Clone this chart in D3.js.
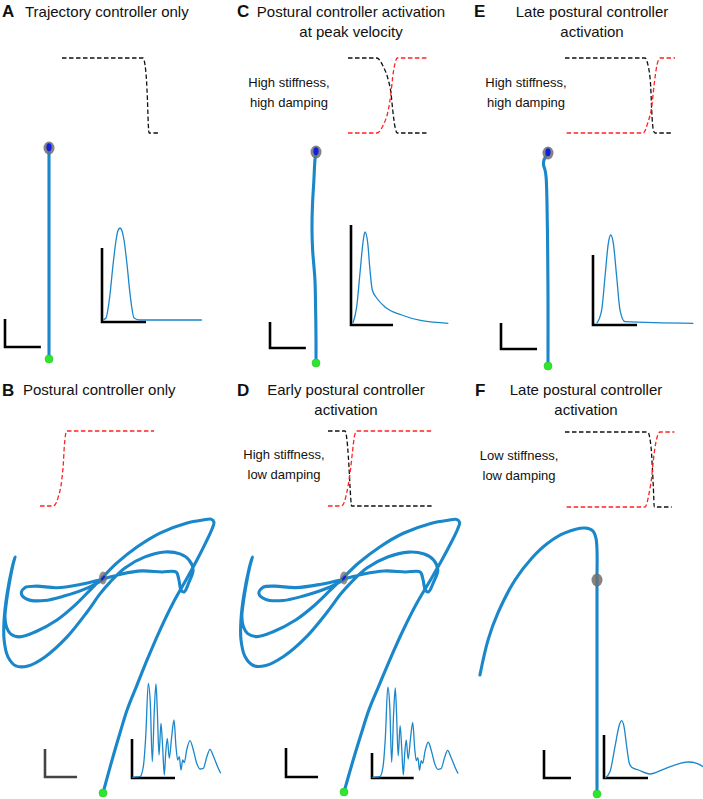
<!DOCTYPE html>
<html>
<head>
<meta charset="utf-8">
<script src="https://cdn.jsdelivr.net/npm/d3@7"></script>
<style>
  body { margin: 0; background: #fff; }
  svg { display: block; font-family: "Liberation Sans", Arial, Helvetica, sans-serif; }
</style>
</head>
<body>
<svg id="fig" width="703" height="799"></svg>
<script>
// ---------- data ----------
// hand paths in cm, start = (0,0), target = (0,10)
const trajA = [[0,0],[0,10]];
const trajC = [[0,0],[0,1.09],[-0.02,2.65],[-0.05,3.93],[-0.16,5.36],[-0.19,6.3],[-0.17,7.42],[-0.1,8.67],[-0.05,9.62],[0,10]];
const trajE = [[0,0],[0,3.1],[-0.02,5.92],[-0.05,7.79],[-0.09,8.87],[-0.14,9.2],[-0.21,9.44],[-0.19,9.67],[-0.09,9.86],[0,10]];
const trajF = [[0,0],[0,5],[0,9.95],[0,11.4],[-0.05,11.96],[-0.19,12.29],[-0.56,12.43],[-1.5,12.2],[-2.29,11.73],
  [-3.04,11.03],[-3.83,10.0],[-4.63,8.46],[-5.09,7.2],[-5.47,5.56]];
// postural controller only (B) -- same path reused for D
const trajB = [
  [0,0],[0.42,1.53],[0.79,2.79],[1.12,3.86],[1.58,5.02],[2.05,6.19],[2.65,7.58],[3.26,8.84],[3.86,9.91],
  [4.37,10.84],[4.79,11.67],[5.07,12.28],[5.16,12.6],[5.02,12.74],
  [4.65,12.7],[3.91,12.56],[2.65,12.09],[1.58,11.44],[0.65,10.7],[0,10.05],
  [-0.6,9.44],[-1.3,8.74],[-2.14,8.05],[-3.16,7.49],[-3.88,7.26],[-4.3,7.4],[-4.49,7.72],[-4.56,8.19],
  [-4.51,8.74],[-4.37,9.67],[-4.19,10.6],[-4.09,10.98],
  [-4.23,10.47],[-4.47,9.21],[-4.6,8.05],[-4.6,7.12],[-4.42,6.33],[-4.05,5.91],[-3.49,5.91],
  [-2.7,6.33],[-1.67,7.26],[-0.74,8.42],[-0.14,9.26],[0.33,9.81],
  [1.02,10.47],[1.95,10.98],[2.88,11.21],[3.58,11.12],[4.0,10.84],[4.19,10.37],[4.0,9.81],[3.77,9.35],
  [3.63,9.44],[3.53,9.91],[3.4,10.28],
  [2.74,10.28],[1.81,10.33],[0.88,10.19],[0,9.95],
  [-1.07,9.7],[-2.15,9.55],[-3.1,9.62],[-3.62,9.56],[-3.8,9.28],[-3.5,9.0],[-2.72,8.95],
  [-1.81,9.16],[-0.74,9.53],[0,9.91]
];

// controller activation vs normalised time (black = trajectory, red = postural)
const trajActA = [[0,1],[0.835,1],[0.856,0.907],[0.871,0.707],[0.881,0.44],[0.89,0.107],[0.897,0],[1,0]];
const postActB = [[0,0],[0.117,0],[0.161,0.124],[0.191,0.347],[0.205,0.573],[0.213,0.79],[0.234,1],[1,1]];
const trajActC = [[0,1],[0.363,1],[0.447,0.884],[0.51,0.707],[0.544,0.533],[0.566,0.307],[0.595,0.08],[0.624,0],[1,0]];
const postActC = [[0,0],[0.363,0],[0.447,0.107],[0.51,0.307],[0.544,0.533],[0.566,0.75],[0.595,0.93],[0.624,1],[1,1]];
const trajActD = [[0,1],[0.162,1],[0.187,0.787],[0.2,0.52],[0.21,0.253],[0.225,0],[1,0]];
const postActD = [[0,0],[0.13,0],[0.178,0.173],[0.21,0.44],[0.232,0.707],[0.251,0.924],[0.273,1],[1,1]];
const trajActE = [[0,1],[0.727,1],[0.757,0.889],[0.779,0.62],[0.788,0.307],[0.803,0.04],[0.818,0],[0.97,0]];
const postActE = [[0.015,0],[0.712,0],[0.752,0.133],[0.788,0.351],[0.812,0.667],[0.834,0.889],[0.864,1],[1,1]];
const trajActF = [[0,1],[0.752,1],[0.782,0.8],[0.794,0.533],[0.803,0.267],[0.812,0],[0.97,0]];
const postActF = [[0.015,0],[0.727,0],[0.764,0.18],[0.788,0.4],[0.803,0.62],[0.825,0.853],[0.864,1],[0.994,1]];

// hand speed profiles (time in bar units, speed in bar units)
const speedA = [[0.02,0.027],[0.09,0.054],[0.18,0.365],[0.25,0.77],[0.32,1.108],[0.36,1.23],[0.41,1.27],
  [0.455,1.23],[0.5,1.108],[0.57,0.77],[0.64,0.365],[0.73,0.054],[0.86,0.027],[2.27,0.027]];
const speedC = [[0.048,0.02],[0.136,0.183],[0.214,0.52],[0.293,0.85],[0.333,0.93],[0.398,0.82],[0.452,0.55],
  [0.507,0.35],[0.612,0.27],[0.81,0.18],[1.207,0.1],[1.683,0.043],[2.317,0.017]];
const speedE = [[0.084,0.024],[0.197,0.214],[0.273,0.69],[0.348,1.167],[0.402,1.286],[0.462,1.167],
  [0.538,0.69],[0.614,0.214],[0.727,0.047],[2.28,0.024]];
const speedB = [[0.007,0.018],[0.186,0.033],[0.263,0.29],[0.319,1.059],[0.379,2.428],[0.426,1.915],[0.472,0.418],
  [0.519,1.744],[0.558,2.41],[0.588,1.744],[0.628,0.59],[0.674,1.403],[0.714,0.762],[0.751,0.077],[0.784,0.641],
  [0.821,1.018],[0.867,0.505],[0.923,1.059],[0.977,1.487],[1.023,0.803],[1.063,0.462],[1.1,0.546],[1.14,0.205],
  [1.179,0.462],[1.216,0.392],[1.272,0.718],[1.349,0.956],[1.426,0.718],[1.505,0.377],[1.581,0.231],[1.658,0.249],
  [1.737,0.531],[1.814,0.736],[1.891,0.564],[2.007,0.249],[2.063,0.121]];
const speedF = [[0.023,0],[0.136,0.147],[0.25,0.728],[0.348,1.233],[0.402,1.333],[0.455,1.193],[0.516,0.728],
  [0.575,0.342],[0.63,0.249],[0.78,0.186],[1.045,0.093],[1.348,0.202],[1.652,0.319],[1.916,0.372],[2.107,0.342],[2.257,0.263]];

// distance scale bars [horizontal, vertical] in cm
const scaleBars = { A: [1.7,1.33], B: [1.49,1.3], C: [1.7,1.23], D: [1.43,1.35], E: [1.69,1.22], F: [1.26,1.31] };

const titles = {
  A: ["Trajectory controller only"],
  B: ["Postural controller only"],
  C: ["Postural controller activation", "at peak velocity"],
  D: ["Early postural controller", "activation"],
  E: ["Late postural controller", "activation"],
  F: ["Late postural controller", "activation"]
};
const notes = {
  C: ["High stiffness,", "high damping"],
  D: ["High stiffness,", "low damping"],
  E: ["High stiffness,", "high damping"],
  F: ["Low stiffness,", "low damping"]
};

// ---------- layout ----------
const panels = [
  { id: "A", traj: trajA, tAct: trajActA, pAct: null, speed: speedA, dot: "big",
    tr: { x: 49, y0: 359, y10: 148, kx: 21.1 }, bar: [5, 347], barColor: "#000",
    act: { x: [62, 159], y: [133, 58] },
    sp: { o: [102, 322], t: 44, v: 74, barT: 1, barV: 1 },
    letter: [2, 17], title: { x: 25, y: 16.5, a: "start" } },
  { id: "B", traj: trajB, tAct: null, pAct: postActB, speed: speedB, dot: "small",
    tr: { x: 103, y0: 793, y10: 578, kx: 21.5 }, bar: [45, 777], barColor: "#444",
    act: { x: [40, 154], y: [506, 431] },
    sp: { o: [132, 778], t: 43, v: 39, barT: 1, barV: 1 },
    letter: [2, 396], title: { x: 23, y: 395, a: "start" } },
  { id: "C", traj: trajC, tAct: trajActC, pAct: postActC, speed: speedC, dot: "big",
    tr: { x: 316, y0: 363, y10: 152, kx: 21.1 }, bar: [270, 348], barColor: "#000",
    act: { x: [348, 427], y: [133, 58] },
    sp: { o: [351, 325], t: 42, v: 100, barT: 1, barV: 1 },
    letter: [237, 17], title: { x: 351, y: 16.5, a: "middle" }, note: { x: 289, y: 87 } },
  { id: "D", traj: trajB, tAct: trajActD, pAct: postActD, speed: speedB, dot: "small",
    tr: { x: 344, y0: 792, y10: 578, kx: 22.4 }, bar: [286, 777], barColor: "#000",
    act: { x: [328, 433], y: [506, 431] },
    sp: { o: [372, 778], t: 41.7, v: 37.4, barT: 1, barV: 0.67 },
    letter: [237, 396], title: { x: 346, y: 395, a: "middle" }, note: { x: 284, y: 459 } },
  { id: "E", traj: trajE, tAct: trajActE, pAct: postActE, speed: speedE, dot: "big",
    tr: { x: 548, y0: 366, y10: 153, kx: 21.3 }, bar: [501, 349], barColor: "#000",
    act: { x: [565, 675], y: [133, 58] },
    sp: { o: [593, 325], t: 44, v: 70, barT: 1, barV: 1 },
    letter: [474, 17], title: { x: 592, y: 16.5, a: "middle" }, note: { x: 526, y: 87 } },
  { id: "F", traj: trajF, tAct: trajActF, pAct: postActF, speed: speedF, dot: null,
    tr: { x: 597, y0: 794, y10: 580, kx: 21.4 }, bar: [544, 778], barColor: "#000",
    act: { x: [565, 675], y: [507, 432] },
    sp: { o: [604, 778], t: 44, v: 43, barT: 1, barV: 1 },
    letter: [475, 396], title: { x: 586, y: 395, a: "middle" }, note: { x: 519, y: 460 } }
];

const blue = "#1a87cb";
const svg = d3.select("#fig");

panels.forEach(p => {
  const g = svg.append("g").attr("class", "panel-" + p.id);

  // letter + title
  g.append("text").attr("x", p.letter[0]).attr("y", p.letter[1])
    .attr("font-size", 17).attr("font-weight", "bold").attr("fill", "#111").text(p.id);
  titles[p.id].forEach((t, i) => {
    g.append("text").attr("x", p.title.x).attr("y", p.title.y + i * 20)
      .attr("text-anchor", p.title.a).attr("font-size", 15).attr("fill", "#111").text(t);
  });
  if (p.note) {
    notes[p.id].forEach((t, i) => {
      g.append("text").attr("x", p.note.x).attr("y", p.note.y + i * 20)
        .attr("text-anchor", "middle").attr("font-size", 13).attr("fill", "#111").text(t);
    });
  }

  // activation profiles
  const xa = d3.scaleLinear().domain([0, 1]).range(p.act.x);
  const ya = d3.scaleLinear().domain([0, 1]).range(p.act.y);
  const actLine = d3.line().x(d => xa(d[0])).y(d => ya(d[1])).curve(d3.curveMonotoneX);
  [[p.tAct, "#111"], [p.pAct, "#ff2222"]].forEach(([d, c]) => {
    if (!d) return;
    g.append("path").attr("d", actLine(d)).attr("fill", "none")
      .attr("stroke", c).attr("stroke-width", 1.3).attr("stroke-dasharray", "4.5,2.5");
  });

  // hand path
  const x = d3.scaleLinear().domain([0, 1]).range([p.tr.x, p.tr.x + p.tr.kx]);
  const y = d3.scaleLinear().domain([0, 10]).range([p.tr.y0, p.tr.y10]);
  const ky = (p.tr.y0 - p.tr.y10) / 10;

  // distance scale bar
  const sb = scaleBars[p.id];
  g.append("path")
    .attr("d", `M${p.bar[0]},${p.bar[1] - sb[1] * ky}V${p.bar[1]}H${p.bar[0] + sb[0] * p.tr.kx}`)
    .attr("fill", "none").attr("stroke", p.barColor).attr("stroke-width", 2.6);

  const trLine = d3.line().x(d => x(d[0])).y(d => y(d[1])).curve(d3.curveCatmullRom.alpha(0.5));
  g.append("path").attr("d", trLine(p.traj)).attr("fill", "none")
    .attr("stroke", blue).attr("stroke-width", 3.1).attr("stroke-linejoin", "round").attr("stroke-linecap", "round");

  // target
  g.append("ellipse").attr("cx", x(0)).attr("cy", y(10))
    .attr("rx", p.dot === "small" ? 4 : 5.5).attr("ry", 6.5)
    .attr("fill", "#6f6f6f").attr("opacity", p.dot === "small" ? 0.75 : 0.85);
  if (p.dot === "big") {
    g.append("ellipse").attr("cx", x(0)).attr("cy", y(10) - 0.8).attr("rx", 2.6).attr("ry", 4)
      .attr("fill", "#1020e0");
  } else if (p.dot === "small") {
    g.append("ellipse").attr("cx", x(0)).attr("cy", y(10)).attr("rx", 1.3).attr("ry", 3)
      .attr("transform", `rotate(40,${x(0)},${y(10)})`).attr("fill", "#1020e0");
  }
  // start
  g.append("circle").attr("cx", x(0)).attr("cy", y(0)).attr("r", 4)
    .attr("fill", "#2ee62e").attr("stroke", "#25c825").attr("stroke-width", 0.6);

  // speed profile
  const xs = d3.scaleLinear().domain([0, 1]).range([p.sp.o[0], p.sp.o[0] + p.sp.t]);
  const ys = d3.scaleLinear().domain([0, 1]).range([p.sp.o[1], p.sp.o[1] - p.sp.v]);
  g.append("path")
    .attr("d", `M${xs(0)},${ys(p.sp.barV)}V${ys(0)}H${xs(p.sp.barT)}`)
    .attr("fill", "none").attr("stroke", "#000").attr("stroke-width", 2.6);
  const spLine = d3.line().x(d => xs(d[0])).y(d => ys(d[1])).curve(d3.curveMonotoneX);
  g.append("path").attr("d", spLine(p.speed)).attr("fill", "none")
    .attr("stroke", blue).attr("stroke-width", 1.3);
});
</script>
</body>
</html>
